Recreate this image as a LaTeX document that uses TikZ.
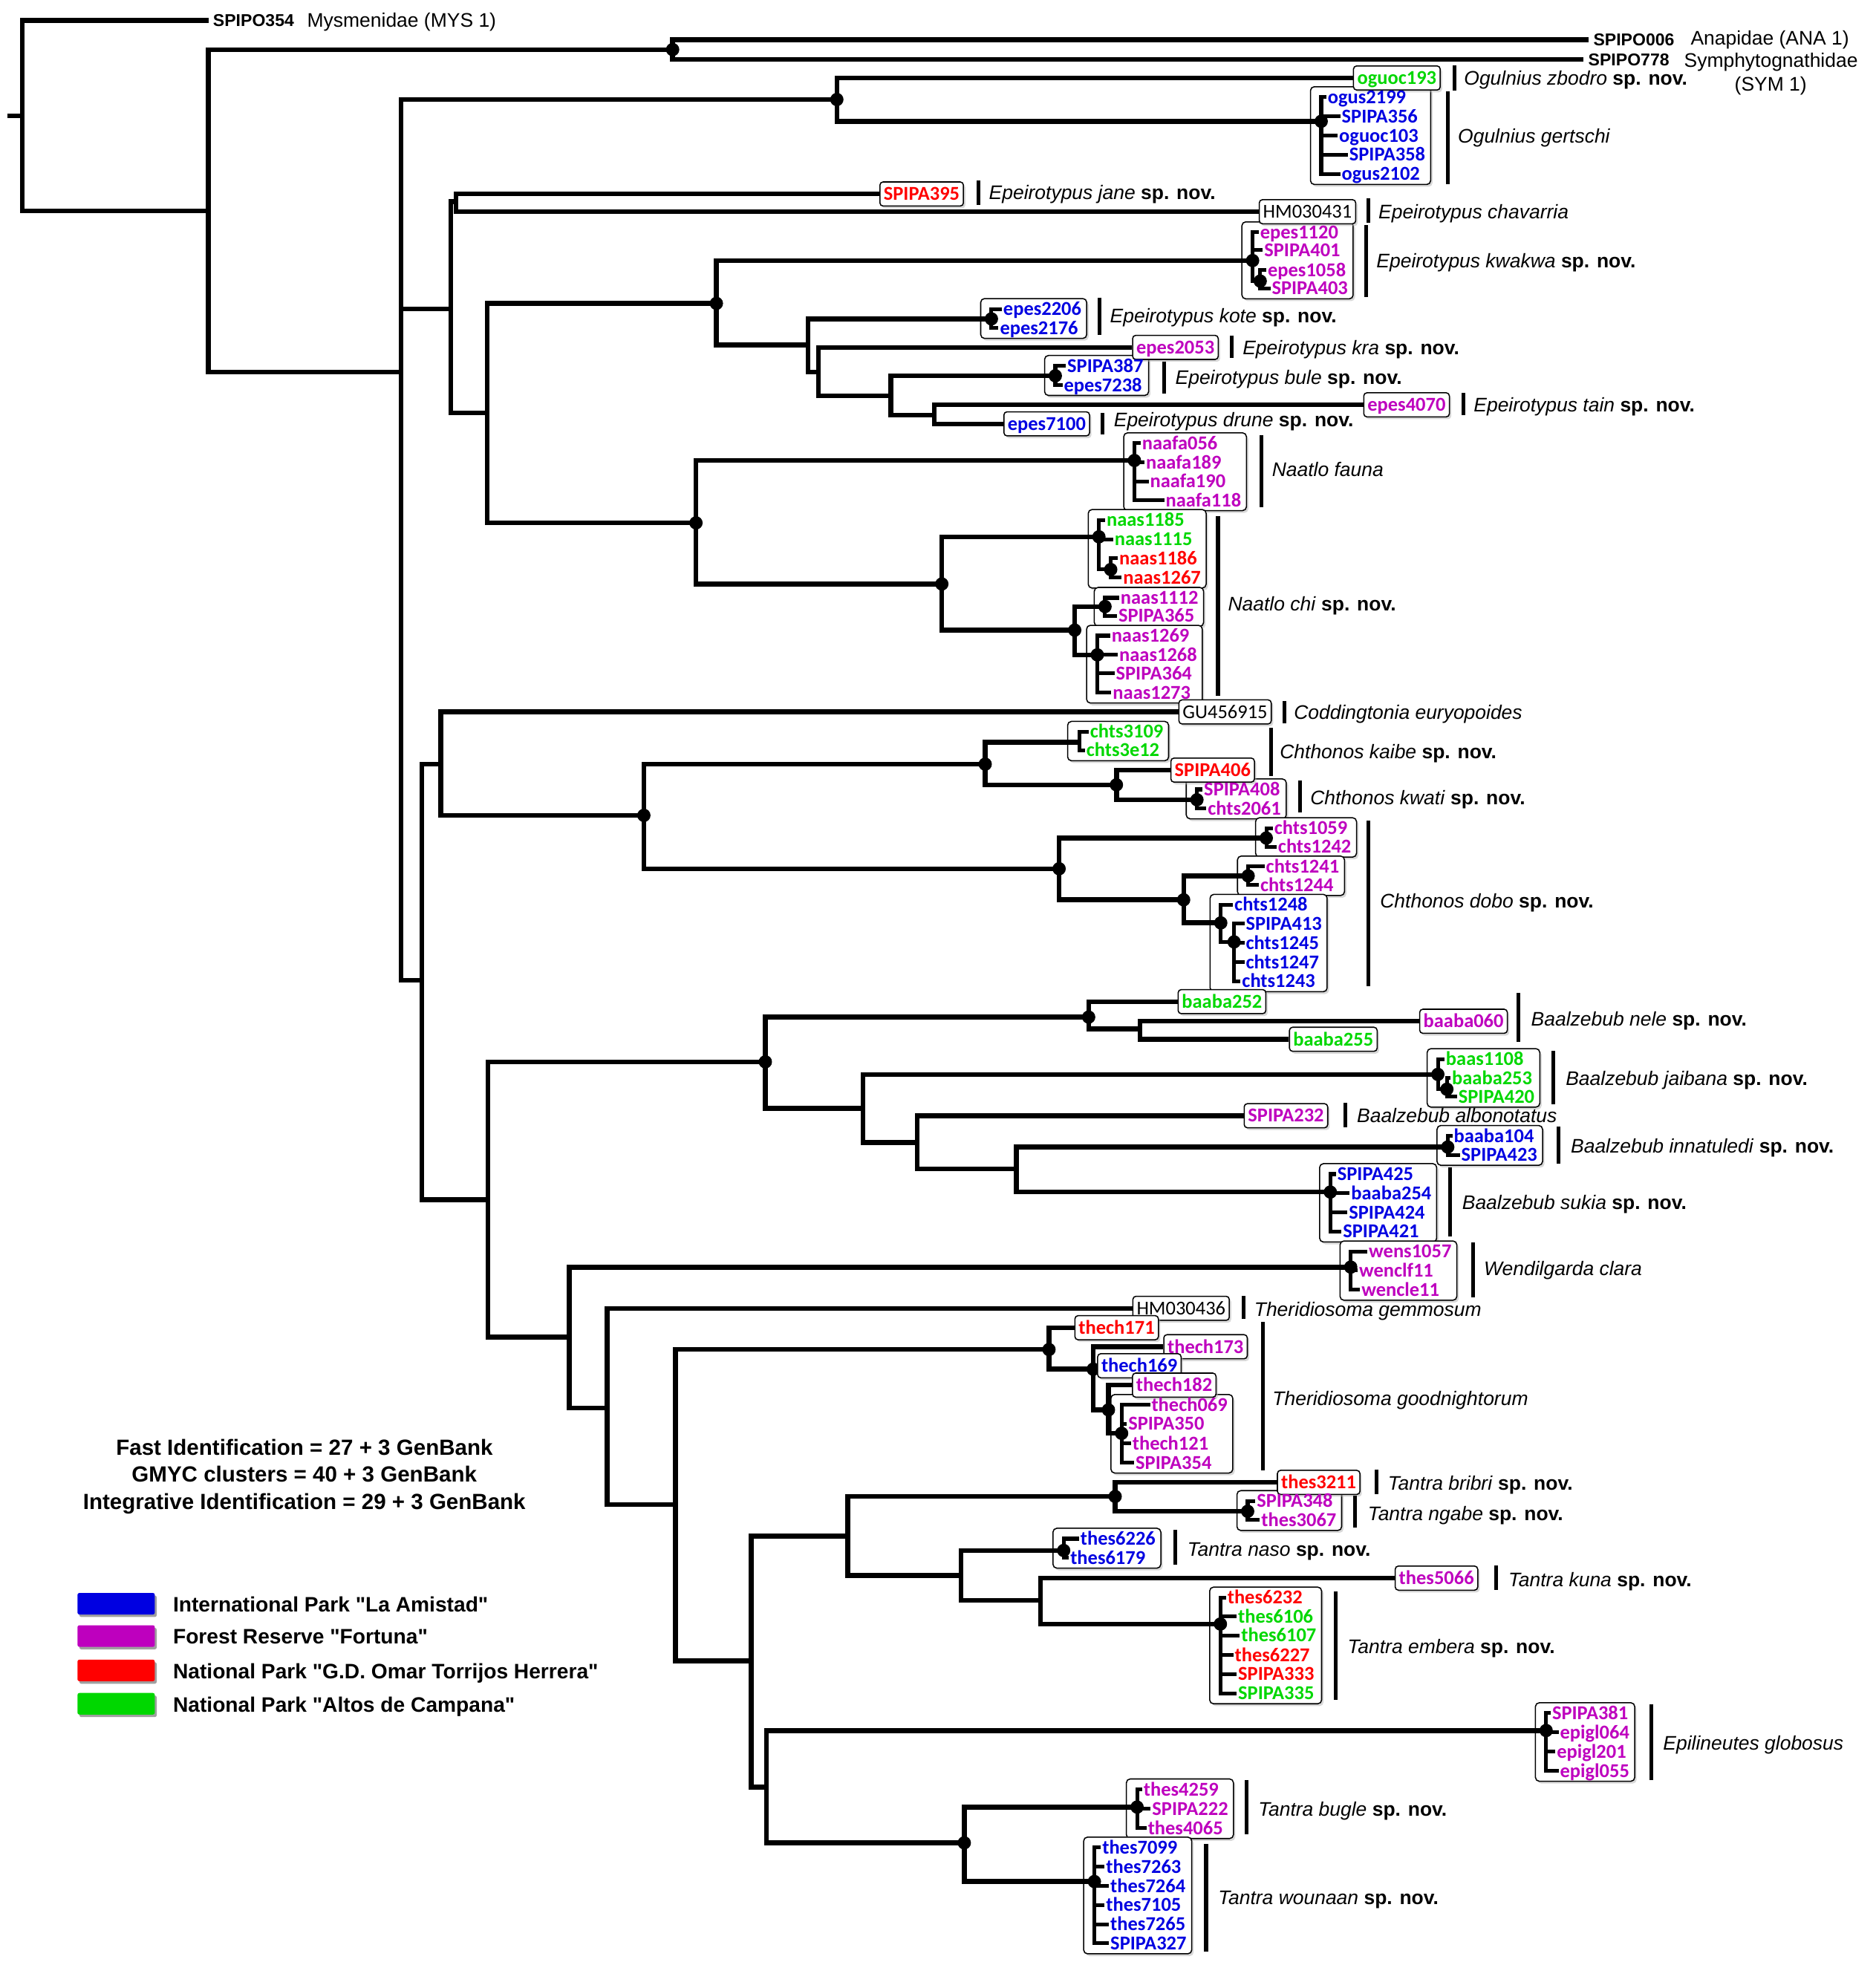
\documentclass[tikz,border=0pt]{standalone}
\usepackage{fontspec}
\setmainfont{Liberation Sans}
\newfontfamily\codefont{Carlito}
\newfontfamily\legendfont{Liberation Sans}[Ligatures=TeXOff]
\usetikzlibrary{fit,shadows,backgrounds}

\definecolor{parkblue}{RGB}{0,0,225}
\definecolor{parkmag}{RGB}{190,0,190}
\definecolor{parkred}{RGB}{255,0,0}
\definecolor{parkgreen}{RGB}{0,215,0}

\newcommand{\spnov}[1]{\textit{#1} \textbf{sp. nov.}}

\tikzset{
  br/.style={line width=3.8pt},
  mt/.style={line width=3pt},
  nd/.style={circle, fill=black, inner sep=0pt, minimum size=10.5pt},
  tip/.style={anchor=west, inner xsep=1pt, inner ysep=0pt, text height=10pt, text depth=0pt,
    font=\codefont\bfseries\fontsize{15.5}{16}\selectfont},
  tipbox/.style={tip, draw, fill=white, line width=0.9pt, rounded corners=2.5pt, inner xsep=3pt, inner ysep=4.5pt,
    drop shadow={shadow xshift=1.5pt, shadow yshift=-1.8pt, fill=black!30}},
  gbbox/.style={tipbox, font=\codefont\fontsize{15.5}{16}\selectfont},
  cbox/.style={draw, fill=white, line width=0.9pt, rounded corners=3pt, inner sep=3pt,
    drop shadow={shadow xshift=1.5pt, shadow yshift=-1.8pt, fill=black!30}},
  bar/.style={line width=3pt},
  sp/.style={anchor=west, inner sep=0pt, text height=11pt, text depth=0pt, font=\fontsize{15.5}{16}\selectfont},
  ogc/.style={anchor=west, inner xsep=3.5pt, inner ysep=0pt, text height=10pt, text depth=0pt,
    font=\bfseries\fontsize{13.5}{14}\selectfont},
  cnt/.style={inner sep=0pt, text height=12pt, text depth=0pt, font=\bfseries\fontsize{17.3}{18}\selectfont},
  lg/.style={anchor=west, inner sep=0pt, text height=12pt, text depth=0pt, font=\legendfont\bfseries\fontsize{16.5}{18}\selectfont},
  swatch/.style={minimum width=61pt, minimum height=17pt, inner sep=0pt, rounded corners=1.5pt,
    drop shadow={shadow xshift=1.5pt, shadow yshift=-2pt, fill=black!75}}
}

\begin{document}
\begin{tikzpicture}[x=1pt, y=-1pt]
\useasboundingbox (0,0) rectangle (1479,1568);

% Branching points without support dot
\coordinate (rstub) at (5.6,91.4);
\coordinate (r0) at (17.6,91.4);
\coordinate (n1) at (164.4,166.4);
\coordinate (n3) at (316.3,293.4);
\coordinate (n5) at (332.8,773.3);
\coordinate (n6) at (355.4,243.6);
\coordinate (n7) at (359.5,159);
\coordinate (n8) at (384.1,325.7);
\coordinate (n11) at (637.2,272);
\coordinate (n12) at (645.4,293.4);
\coordinate (n13) at (702.6,312.3);
\coordinate (n14) at (736.7,327.4);
\coordinate (n17) at (347.5,602.7);
\coordinate (n18) at (384.8,946.3);
\coordinate (n25) at (448.9,1054.5);
\coordinate (n27) at (680.7,874.2);
\coordinate (n28) at (899,811.6);
\coordinate (n29) at (723.3,901.2);
\coordinate (n30) at (801.7,921.9);
\coordinate (n31) at (478.9,1110.5);
\coordinate (n32) at (532.7,1186.7);
\coordinate (n34) at (592.4,1310);
\coordinate (n38) at (668.6,1211.5);
\coordinate (n39) at (604.5,1409.5);
\coordinate (n41) at (757.8,1242.6);
\coordinate (n42) at (820.5,1262.3);
\coordinate (kb) at (851.1,585.4);
\coordinate (kbl) at (845,585.4);

% Supported nodes
\node[nd] (n2) at (530.5,39.1) {};
\node[nd] (n4) at (660,78.5) {};
\node[nd] (n9) at (565,239.3) {};
\node[nd] (n10) at (548.9,412.4) {};
\node[nd] (n15) at (742.8,460.6) {};
\node[nd] (n16) at (847.6,497) {};
\node[nd] (n19) at (507.8,643.1) {};
\node[nd] (n20) at (777,602.7) {};
\node[nd] (n21) at (835.3,685.2) {};
\node[nd] (n22) at (880.5,619) {};
\node[nd] (n23) at (933.5,709.7) {};
\node[nd] (n24) at (603.6,837.5) {};
\node[nd] (n26) at (858.6,802.2) {};
\node[nd] (n33) at (827.3,1064.4) {};
\node[nd] (n35) at (862.2,1079.9) {};
\node[nd] (n36) at (874.2,1112) {};
\node[nd] (n40) at (879.5,1180.3) {};
\node[nd] (n43) at (760.5,1453.5) {};

% Supported clusters
\node[nd] (og) at (1042,95.7) {};
\node[nd] (kw) at (987.9,205.5) {};
\node[nd] (kw2) at (993.9,221.7) {};
\node[nd] (ko) at (781.9,251.5) {};
\node[nd] (bu) at (832.3,296.4) {};
\node[nd] (fa) at (894.7,363.2) {};
\node[nd] (ch1) at (866.7,423.4) {};
\node[nd] (ch1b) at (876,449.2) {};
\node[nd] (ch2) at (871.5,478.4) {};
\node[nd] (ch3) at (865.4,516.5) {};
\node[nd] (kt) at (944,630.8) {};
\node[nd] (db1) at (998.7,661) {};
\node[nd] (db2) at (984.4,690.8) {};
\node[nd] (db3) at (962.8,727.9) {};
\node[nd] (db3b) at (973.3,742.9) {};
\node[nd] (jb) at (1134,847.4) {};
\node[nd] (jb2) at (1141.1,859.1) {};
\node[nd] (inn) at (1141.8,904.7) {};
\node[nd] (sk) at (1049.2,940.2) {};
\node[nd] (wd) at (1065.3,999.4) {};
\node[nd] (n37) at (884.6,1130.5) {};
\node[nd] (ng) at (984,1192) {};
\node[nd] (ns) at (838.9,1222.9) {};
\node[nd] (em) at (962.5,1280.9) {};
\node[nd] (ep) at (1219.4,1364.9) {};
\node[nd] (bg) at (896.8,1425.3) {};
\node[nd] (wn) at (863.1,1484) {};

% Outgroups
\node[ogc] (SPIPO354) at (164.4,16) {SPIPO354};
\node[sp] (mys) at (242.1,16) {Mysmenidae (MYS 1)};
\node[ogc] (SPIPO006) at (1253,31.2) {SPIPO006};
\node[sp] (ana) at (1333.2,29.7) {Anapidae (ANA 1)};
\node[ogc] (SPIPO778) at (1249,46.9) {SPIPO778};
\node[sp] (sym) at (1328,47.8) {Symphytognathidae};
\node[sp, anchor=center] (sym1) at (1396.5,66.4) {(SYM 1)};

% Single terminals
\node[gbbox] (HM030436) at (893,1031.9) {HM030436};
\node[tipbox, text=parkgreen] (oguoc193) at (1067,61.5) {oguoc193};
\node[tipbox, text=parkred] (SPIPA395) at (693.5,153) {SPIPA395};
\node[gbbox] (HM030431) at (992.7,167) {HM030431};
\node[tipbox, text=parkmag] (epes2053) at (892.8,274) {epes2053};
\node[tipbox, text=parkmag] (epes4070) at (1075.1,319.3) {epes4070};
\node[tipbox, text=parkblue] (epes7100) at (791.3,334.3) {epes7100};
\node[gbbox] (GU456915) at (929.3,561.5) {GU456915};
\node[tipbox, text=parkred] (SPIPA406) at (923,607.4) {SPIPA406};
\node[tipbox, text=parkgreen] (baaba252) at (928.7,790) {baaba252};
\node[tipbox, text=parkmag] (baaba060) at (1119.2,805.5) {baaba060};
\node[tipbox, text=parkgreen] (baaba255) at (1016.5,819.7) {baaba255};
\node[tipbox, text=parkmag] (SPIPA232) at (980.8,880) {SPIPA232};
\node[tipbox, text=parkred] (thech171) at (847.3,1047.2) {thech171};
\node[tipbox, text=parkmag] (thech173) at (917.4,1062.2) {thech173};
\node[tipbox, text=parkblue] (thech169) at (865.2,1077.2) {thech169};
\node[tipbox, text=parkmag] (thech182) at (892.7,1092.5) {thech182};
\node[tipbox, text=parkred] (thes3211) at (1007,1169.2) {thes3211};
\node[tipbox, text=parkmag] (thes5066) at (1099.9,1244.7) {thes5066};

% Terminals inside clusters
\foreach \tp/\x/\y in {ogus2199/1046/76.6, SPIPA356/1057/91.8, oguoc103/1055/107, SPIPA358/1063/122.1, ogus2102/1057/137.3,
    epes2206/790.1/243.7, epes2176/787.5/258.7, SPIPA387/840.6/288.6, epes7238/837.9/303.7,
    chts1248/972.4/713.6, SPIPA413/981.4/728.6, chts1245/981.4/743.8, chts1247/981.4/759, chts1243/978.4/774,
    baaba104/1145.4/895.9, SPIPA423/1151.3/910.9,
    SPIPA425/1053.6/926, baaba254/1064.5/941.2, SPIPA424/1062.7/956.4, SPIPA421/1058/971.4,
    thes6226/851/1213.6, thes6179/843/1228.6,
    thes7099/868.2/1457.2, thes7263/871.2/1472.2, thes7264/874.6/1487.5, thes7105/871.2/1502.5, thes7265/874.6/1517.7, SPIPA327/874.6/1532.8}
  \node[tip, text=parkblue] (\tp) at (\x,\y) {\tp};
\foreach \tp/\x/\y in {epes1120/992.7/183.2, SPIPA401/995.9/197.3, epes1058/998.7/212.9, SPIPA403/1001.9/227.5,
    naafa056/899.6/349.6, naafa189/902.6/364.6, naafa190/905.9/379.8, naafa118/918.2/394.5,
    naas1112/882.6/471.5, SPIPA365/880.9/485.8,
    naas1269/875.5/501.4, naas1268/881.6/516.5, SPIPA364/878.9/531.1, naas1273/876.5/546.3,
    SPIPA408/948.4/622.6, chts2061/951.4/637.6, chts1059/1003.8/653.2, chts1242/1006.8/667.8,
    chts1241/997.3/683.4, chts1244/992.8/698.1,
    wens1057/1078.4/987, wenclf11/1070.7/1002, wencle11/1072.6/1017.3,
    thech069/907/1108.1, SPIPA350/888.7/1123.1, thech121/892/1138.4, SPIPA354/894.5/1153.6,
    SPIPA348/990/1183.9, thes3067/993.6/1198.9,
    SPIPA381/1223/1351.2, epigl064/1229.2/1366.4, epigl201/1226.7/1381.5, epigl055/1229.2/1396.7,
    thes4259/900.8/1411.3, SPIPA222/907.5/1426.7, thes4065/904.2/1441.9}
  \node[tip, text=parkmag] (\tp) at (\x,\y) {\tp};
\foreach \tp/\x/\y in {chts3109/858.6/577.2, chts3e12/855.6/591.8,
    baas1108/1139.2/835.3, baaba253/1144/850.4, SPIPA420/1149.1/865}
  \node[tip, text=parkgreen] (\tp) at (\x,\y) {\tp};
\foreach \tp/\x/\y/\cl in {naas1185/871.6/410.1/parkgreen, naas1115/877.9/425.3/parkgreen,
    naas1186/881.6/440.4/parkred, naas1267/884.6/455.6/parkred,
    thes6232/966.9/1260/parkred, thes6106/975.3/1275/parkgreen, thes6107/977.8/1290/parkgreen,
    thes6227/972.7/1305.3/parkred, SPIPA333/975.3/1320.3/parkred, SPIPA335/975.3/1335.6/parkgreen}
  \node[tip, text=\cl] (\tp) at (\x,\y) {\tp};

\begin{scope}[on background layer]
% Cluster boxes
\node[cbox, fit=(og)(ogus2199)(SPIPA356)(oguoc103)(SPIPA358)(ogus2102)] (ogbox) {};
\node[cbox, fit=(kw)(epes1120)(SPIPA401)(epes1058)(SPIPA403)] (kwbox) {};
\node[cbox, fit=(ko)(epes2206)(epes2176)] (kobox) {};
\node[cbox, fit=(bu)(SPIPA387)(epes7238)] (bubox) {};
\node[cbox, fit=(fa)(naafa056)(naafa189)(naafa190)(naafa118)] (fabox) {};
\node[cbox, fit=(ch1)(naas1185)(naas1115)(naas1186)(naas1267)] (ch1box) {};
\node[cbox, fit=(ch2)(naas1112)(SPIPA365)] (ch2box) {};
\node[cbox, fit=(ch3)(naas1269)(naas1268)(SPIPA364)(naas1273)] (ch3box) {};
\node[cbox, fit=(kbl)(chts3109)(chts3e12)] (kbbox) {};
\node[cbox, fit=(kt)(SPIPA408)(chts2061)] (ktbox) {};
\node[cbox, fit=(db1)(chts1059)(chts1242)] (db1box) {};
\node[cbox, fit=(db2)(chts1241)(chts1244)] (db2box) {};
\node[cbox, fit=(db3)(chts1248)(SPIPA413)(chts1245)(chts1247)(chts1243)] (db3box) {};
\node[cbox, fit=(jb)(baas1108)(baaba253)(SPIPA420)] (jbbox) {};
\node[cbox, fit=(inn)(baaba104)(SPIPA423)] (innbox) {};
\node[cbox, fit=(sk)(SPIPA425)(baaba254)(SPIPA424)(SPIPA421)] (skbox) {};
\node[cbox, fit=(wd)(wens1057)(wenclf11)(wencle11)] (wdbox) {};
\node[cbox, fit=(n37)(thech069)(SPIPA350)(thech121)(SPIPA354)] (thbox) {};
\node[cbox, fit=(ng)(SPIPA348)(thes3067)] (ngbox) {};
\node[cbox, fit=(ns)(thes6226)(thes6179)] (nsbox) {};
\node[cbox, fit=(em)(thes6232)(thes6106)(thes6107)(thes6227)(SPIPA333)(SPIPA335)] (embox) {};
\node[cbox, fit=(ep)(SPIPA381)(epigl064)(epigl201)(epigl055)] (epbox) {};
\node[cbox, fit=(bg)(thes4259)(SPIPA222)(thes4065)] (bgbox) {};
\node[cbox, fit=(wn)(thes7099)(thes7263)(thes7264)(thes7105)(thes7265)(SPIPA327)] (wnbox) {};

% Small trees inside the clusters
\foreach \tp in {ogus2199,SPIPA356,oguoc103,SPIPA358,ogus2102} \draw[mt] (og.center) |- (\tp.west);
\foreach \tp in {epes1120,SPIPA401} \draw[mt] (kw.center) |- (\tp.west);
\draw[mt] (kw.center) |- (kw2.center);
\foreach \tp in {epes1058,SPIPA403} \draw[mt] (kw2.center) |- (\tp.west);
\foreach \tp in {epes2206,epes2176} \draw[mt] (ko.center) |- (\tp.west);
\foreach \tp in {SPIPA387,epes7238} \draw[mt] (bu.center) |- (\tp.west);
\foreach \tp in {naafa056,naafa189,naafa190,naafa118} \draw[mt] (fa.center) |- (\tp.west);
\foreach \tp in {naas1185,naas1115} \draw[mt] (ch1.center) |- (\tp.west);
\draw[mt] (ch1.center) |- (ch1b.center);
\foreach \tp in {naas1186,naas1267} \draw[mt] (ch1b.center) |- (\tp.west);
\foreach \tp in {naas1112,SPIPA365} \draw[mt] (ch2.center) |- (\tp.west);
\foreach \tp in {naas1269,naas1268,SPIPA364,naas1273} \draw[mt] (ch3.center) |- (\tp.west);
\foreach \tp in {chts3109,chts3e12} \draw[mt] (kb) |- (\tp.west);
\foreach \tp in {SPIPA408,chts2061} \draw[mt] (kt.center) |- (\tp.west);
\foreach \tp in {chts1059,chts1242} \draw[mt] (db1.center) |- (\tp.west);
\foreach \tp in {chts1241,chts1244} \draw[mt] (db2.center) |- (\tp.west);
\draw[mt] (db3.center) |- (chts1248.west);
\draw[mt] (db3.center) |- (db3b.center);
\foreach \tp in {SPIPA413,chts1245,chts1247,chts1243} \draw[mt] (db3b.center) |- (\tp.west);
\draw[mt] (jb.center) |- (baas1108.west);
\draw[mt] (jb.center) |- (jb2.center);
\foreach \tp in {baaba253,SPIPA420} \draw[mt] (jb2.center) |- (\tp.west);
\foreach \tp in {baaba104,SPIPA423} \draw[mt] (inn.center) |- (\tp.west);
\foreach \tp in {SPIPA425,baaba254,SPIPA424,SPIPA421} \draw[mt] (sk.center) |- (\tp.west);
\foreach \tp in {wens1057,wenclf11,wencle11} \draw[mt] (wd.center) |- (\tp.west);
\foreach \tp in {thech069,SPIPA350,thech121,SPIPA354} \draw[mt] (n37.center) |- (\tp.west);
\foreach \tp in {SPIPA348,thes3067} \draw[mt] (ng.center) |- (\tp.west);
\foreach \tp in {thes6226,thes6179} \draw[mt] (ns.center) |- (\tp.west);
\foreach \tp in {thes6232,thes6106,thes6107,thes6227,SPIPA333,SPIPA335} \draw[mt] (em.center) |- (\tp.west);
\foreach \tp in {SPIPA381,epigl064,epigl201,epigl055} \draw[mt] (ep.center) |- (\tp.west);
\foreach \tp in {thes4259,SPIPA222,thes4065} \draw[mt] (bg.center) |- (\tp.west);
\foreach \tp in {thes7099,thes7263,thes7264,thes7105,thes7265,SPIPA327} \draw[mt] (wn.center) |- (\tp.west);

% Backbone
\draw[br] (rstub) -- (r0);
\draw[br] (r0) |- (SPIPO354.west);
\draw[br] (r0) |- (n1);
\draw[br] (n1) |- (n2.center);
\draw[br] (n2.center) |- (SPIPO006.west);
\draw[br] (n2.center) |- (SPIPO778.west);
\draw[br] (n1) |- (n3);
\draw[br] (n3) |- (n4.center);
\draw[br] (n3) |- (n6);
\draw[br] (n3) |- (n5);
\draw[br] (n4.center) |- (oguoc193.west);
\draw[br] (n4.center) |- (og.center);
\draw[br] (n6) |- (n7);
\draw[br] (n6) |- (n8);
\draw[br] (n7) |- (SPIPA395.west);
\draw[br] (n7) |- (HM030431.west);
\draw[br] (n8) |- (n9.center);
\draw[br] (n8) |- (n10.center);
\draw[br] (n9.center) |- (kw.center);
\draw[br] (n9.center) |- (n11);
\draw[br] (n11) |- (ko.center);
\draw[br] (n11) |- (n12);
\draw[br] (n12) |- (epes2053.west);
\draw[br] (n12) |- (n13);
\draw[br] (n13) |- (bu.center);
\draw[br] (n13) |- (n14);
\draw[br] (n14) |- (epes4070.west);
\draw[br] (n14) |- (epes7100.west);
\draw[br] (n10.center) |- (fa.center);
\draw[br] (n10.center) |- (n15.center);
\draw[br] (n15.center) |- (ch1.center);
\draw[br] (n15.center) |- (n16.center);
\draw[br] (n16.center) |- (ch2.center);
\draw[br] (n16.center) |- (ch3.center);
\draw[br] (n5) |- (n17);
\draw[br] (n5) |- (n18);
\draw[br] (n17) |- (GU456915.west);
\draw[br] (n17) |- (n19.center);
\draw[br] (n19.center) |- (n20.center);
\draw[br] (n19.center) |- (n21.center);
\draw[br] (n20.center) |- (kb);
\draw[br] (n20.center) |- (n22.center);
\draw[br] (n22.center) |- (SPIPA406.west);
\draw[br] (n22.center) |- (kt.center);
\draw[br] (n21.center) |- (db1.center);
\draw[br] (n21.center) |- (n23.center);
\draw[br] (n23.center) |- (db2.center);
\draw[br] (n23.center) |- (db3.center);
\draw[br] (n18) |- (n24.center);
\draw[br] (n18) |- (n25);
\draw[br] (n24.center) |- (n26.center);
\draw[br] (n24.center) |- (n27);
\draw[br] (n26.center) |- (baaba252.west);
\draw[br] (n26.center) |- (n28);
\draw[br] (n28) |- (baaba060.west);
\draw[br] (n28) |- (baaba255.west);
\draw[br] (n27) |- (jb.center);
\draw[br] (n27) |- (n29);
\draw[br] (n29) |- (SPIPA232.west);
\draw[br] (n29) |- (n30);
\draw[br] (n30) |- (inn.center);
\draw[br] (n30) |- (sk.center);
\draw[br] (n25) |- (wd.center);
\draw[br] (n25) |- (n31);
\draw[br] (n31) |- (HM030436.west);
\draw[br] (n31) |- (n32);
\draw[br] (n32) |- (n33.center);
\draw[br] (n32) |- (n34);
\draw[br] (n33.center) |- (thech171.west);
\draw[br] (n33.center) |- (n35.center);
\draw[br] (n35.center) |- (thech173.west);
\draw[br] (n35.center) |- (thech169.west);
\draw[br] (n35.center) |- (n36.center);
\draw[br] (n36.center) |- (thech182.west);
\draw[br] (n36.center) |- (n37.center);
\draw[br] (n34) |- (n38);
\draw[br] (n34) |- (n39);
\draw[br] (n38) |- (n40.center);
\draw[br] (n38) |- (n41);
\draw[br] (n40.center) |- (thes3211.west);
\draw[br] (n40.center) |- (ng.center);
\draw[br] (n41) |- (ns.center);
\draw[br] (n41) |- (n42);
\draw[br] (n42) |- (thes5066.west);
\draw[br] (n42) |- (em.center);
\draw[br] (n39) |- (ep.center);
\draw[br] (n39) |- (n43.center);
\draw[br] (n43.center) |- (bg.center);
\draw[br] (n43.center) |- (wn.center);
\end{scope}

% Species bars
\foreach \xb/\ya/\yb in {1147.3/51.8/71.3, 1141.7/71.9/145.5, 771.6/142.5/161.5, 1079/156.5/176,
    1077.4/177.7/234.4, 867.1/234.7/264.2, 971.3/264.6/282.2, 918.2/285/310.5, 1154.3/310/327.7,
    869.7/325.7/342.7, 994.8/343.3/400, 960.6/407/548.7, 1012.8/552.8/570.4, 1002.3/574.3/612.3,
    1025.1/615.6/640.6, 1079/647.4/778, 1197.5/783/822, 1224.8/829/871, 1060.9/870/889.4,
    1229.2/888.4/917.7, 1143.6/921/975, 1161.8/980/1023, 981/1022.1/1040.3, 996/1042.7/1159.8,
    1085.6/1158.9/1178.4, 1068.8/1179.4/1204.8, 926.8/1206.7/1234, 1180/1234.9/1254,
    1053.6/1255/1341, 1302.1/1344/1404, 983.2/1403.9/1446.8, 951.2/1454.3/1539}
  \draw[bar] (\xb,\ya) -- (\xb,\yb);

% Species names
\node[sp] (oz) at (1154.5,61.5) {\spnov{Ogulnius zbodro}};
\node[sp] (ogt) at (1149.7,107) {\textit{Ogulnius gertschi}};
\node[sp] (ejane) at (779.8,152) {\spnov{Epeirotypus jane}};
\node[sp] (echav) at (1087,167) {\textit{Epeirotypus chavarria}};
\node[sp] (ekwa) at (1085.4,205.5) {\spnov{Epeirotypus kwakwa}};
\node[sp] (ekote) at (875.3,249) {\spnov{Epeirotypus kote}};
\node[sp] (ekra) at (979.9,274) {\spnov{Epeirotypus kra}};
\node[sp] (ebule) at (926.8,297.8) {\spnov{Epeirotypus bule}};
\node[sp] (etain) at (1162.1,319.3) {\spnov{Epeirotypus tain}};
\node[sp] (edrune) at (878.3,331) {\spnov{Epeirotypus drune}};
\node[sp] (nfauna) at (1003,370) {\textit{Naatlo fauna}};
\node[sp] (nchi) at (968.3,476) {\spnov{Naatlo chi}};
\node[sp] (ceury) at (1020.3,562) {\textit{Coddingtonia euryopoides}};
\node[sp] (ckaibe) at (1009.2,592.8) {\spnov{Chthonos kaibe}};
\node[sp] (ckwati) at (1033.2,629.2) {\spnov{Chthonos kwati}};
\node[sp] (cdobo) at (1088.3,710.7) {\spnov{Chthonos dobo}};
\node[sp] (bnele) at (1207.4,803.5) {\spnov{Baalzebub nele}};
\node[sp] (bjai) at (1234.7,850.4) {\spnov{Baalzebub jaibana}};
\node[sp] (balbo) at (1070,879.7) {\textit{Baalzebub albonotatus}};
\node[sp] (binna) at (1238.7,904.1) {\spnov{Baalzebub innatuledi}};
\node[sp] (bsukia) at (1153,948.6) {\spnov{Baalzebub sukia}};
\node[sp] (wclara) at (1170.2,1000.7) {\textit{Wendilgarda clara}};
\node[sp] (tgem) at (989,1032.9) {\textit{Theridiosoma gemmosum}};
\node[sp] (tgood) at (1003.4,1103.2) {\textit{Theridiosoma goodnightorum}};
\node[sp] (tbri) at (1094.5,1169.6) {\spnov{Tantra bribri}};
\node[sp] (tnga) at (1078.7,1194) {\spnov{Tantra ngabe}};
\node[sp] (tnaso) at (936.3,1221.9) {\spnov{Tantra naso}};
\node[sp] (tkuna) at (1189.5,1245.7) {\spnov{Tantra kuna}};
\node[sp] (temb) at (1062.7,1298.5) {\spnov{Tantra embera}};
\node[sp] (eglob) at (1311.5,1374.6) {\textit{Epilineutes globosus}};
\node[sp] (tbug) at (992.2,1426.9) {\spnov{Tantra bugle}};
\node[sp] (twou) at (960.6,1496.6) {\spnov{Tantra wounaan}};

% Counts
\node[cnt] (fastid) at (240.1,1141.8) {Fast Identification = 27 + 3 GenBank};
\node[cnt] (gmyc) at (240,1162.7) {GMYC clusters = 40 + 3 GenBank};
\node[cnt] (integ) at (240,1184.2) {Integrative Identification = 29 + 3 GenBank};

% Legend
\node[swatch, fill=parkblue] (swblue) at (91.6,1264.9) {};
\node[swatch, fill=parkmag] (swmag) at (91.6,1290.4) {};
\node[swatch, fill=parkred] (swred) at (91.6,1317.5) {};
\node[swatch, fill=parkgreen] (swgreen) at (91.6,1343.8) {};
\node[lg] (lgblue) at (136.3,1265.2) {International Park "La Amistad"};
\node[lg] (lgmag) at (136.3,1290.6) {Forest Reserve "Fortuna"};
\node[lg] (lgred) at (136.3,1318) {National Park "G.D. Omar Torrijos Herrera"};
\node[lg] (lggreen) at (136.3,1344.3) {National Park "Altos de Campana"};

\end{tikzpicture}
\end{document}
